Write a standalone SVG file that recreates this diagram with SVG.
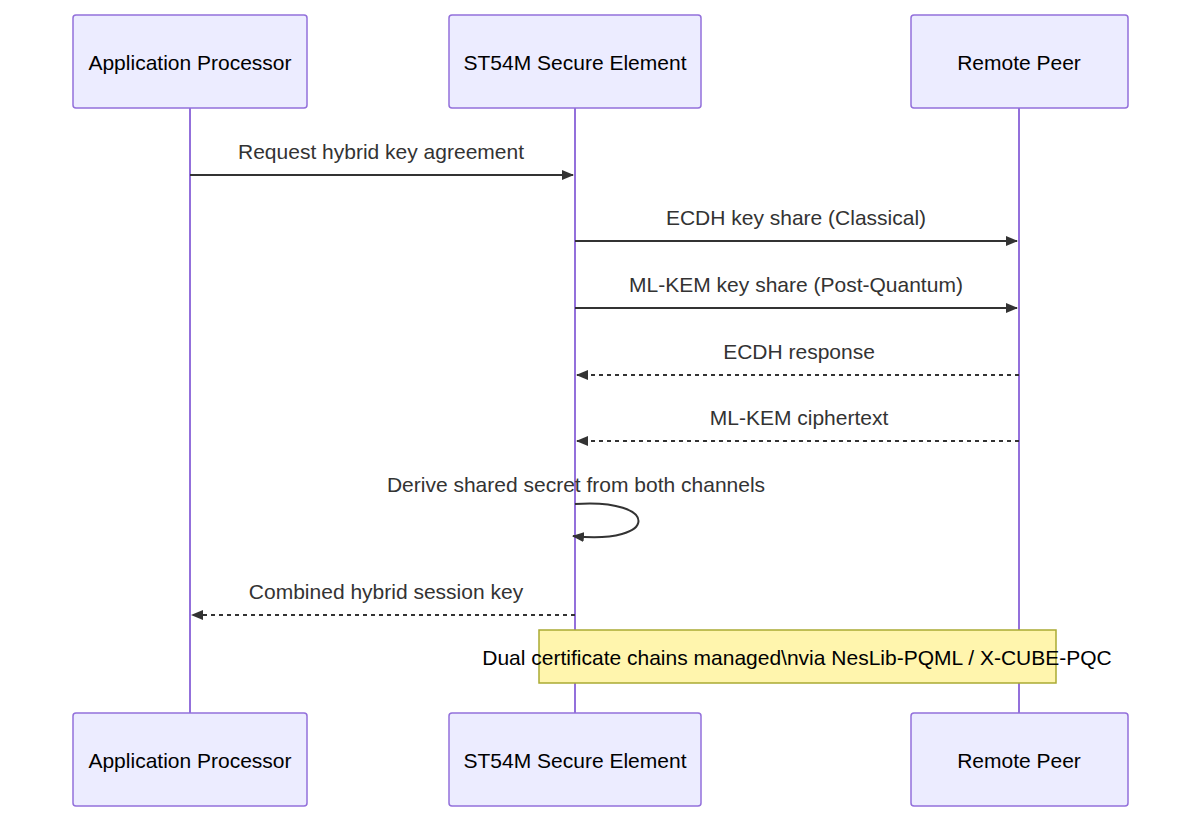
<svg xmlns="http://www.w3.org/2000/svg" width="1200" height="822" viewBox="0 0 1200 822">
<style>
.actor{fill:#ECECFF;stroke:#9370DB;stroke-width:1.5}
.life{stroke:#9370DB;stroke-width:2}
.at{font-family:"Liberation Sans",Arial,sans-serif;font-size:21px;fill:#000;text-anchor:middle;dominant-baseline:central}
.mt{font-family:"Liberation Sans",Arial,sans-serif;font-size:21px;fill:#333;text-anchor:middle}
.msg{stroke:#333;stroke-width:2;fill:none}
.dash{stroke-dasharray:4,4}
</style>
<defs>
<marker id="ah" viewBox="0 0 12 10" refX="11" refY="5" markerWidth="12" markerHeight="10" markerUnits="userSpaceOnUse" orient="auto"><path d="M0,0 L12,5 L0,10 z" fill="#333"/></marker>
</defs>
<g id="lifelines">
<line class="life" x1="190" y1="108" x2="190" y2="713"/>
<line class="life" x1="575" y1="108" x2="575" y2="713"/>
<line class="life" x1="1019" y1="108" x2="1019" y2="713"/>
</g>
<g id="ap-top"><rect class="actor" x="73" y="15" width="234" height="93" rx="3"/><text class="at" x="190" y="62">Application Processor</text></g>
<g id="se-top"><rect class="actor" x="449" y="15" width="252" height="93" rx="3"/><text class="at" x="575" y="62">ST54M Secure Element</text></g>
<g id="rp-top"><rect class="actor" x="911" y="15" width="217" height="93" rx="3"/><text class="at" x="1019" y="62">Remote Peer</text></g>
<g id="ap-bot"><rect class="actor" x="73" y="713" width="234" height="93" rx="3"/><text class="at" x="190" y="760">Application Processor</text></g>
<g id="se-bot"><rect class="actor" x="449" y="713" width="252" height="93" rx="3"/><text class="at" x="575" y="760">ST54M Secure Element</text></g>
<g id="rp-bot"><rect class="actor" x="911" y="713" width="217" height="93" rx="3"/><text class="at" x="1019" y="760">Remote Peer</text></g>
<g id="connectors">
<line class="msg" x1="190" y1="175" x2="573" y2="175" marker-end="url(#ah)"/>
<text class="mt" x="381" y="159">Request hybrid key agreement</text>
<line class="msg" x1="575" y1="241" x2="1017" y2="241" marker-end="url(#ah)"/>
<text class="mt" x="796" y="225">ECDH key share (Classical)</text>
<line class="msg" x1="575" y1="308" x2="1017" y2="308" marker-end="url(#ah)"/>
<text class="mt" x="796" y="292">ML-KEM key share (Post-Quantum)</text>
<line class="msg dash" x1="1019" y1="375" x2="577" y2="375" marker-end="url(#ah)"/>
<text class="mt" x="799" y="359">ECDH response</text>
<line class="msg dash" x1="1019" y1="441" x2="577" y2="441" marker-end="url(#ah)"/>
<text class="mt" x="799" y="425">ML-KEM ciphertext</text>
<path class="msg" d="M575,504 C660,498 660,545 573,536" marker-end="url(#ah)"/>
<text class="mt" x="576" y="492">Derive shared secret from both channels</text>
<line class="msg dash" x1="575" y1="615" x2="192" y2="615" marker-end="url(#ah)"/>
<text class="mt" x="386" y="599">Combined hybrid session key</text>
</g>
<g id="note">
<rect x="539" y="630" width="517" height="53" fill="#fff5ad" stroke="#aaaa33" stroke-width="1.5"/>
<text class="at" x="797" y="657">Dual certificate chains managed\nvia NesLib-PQML / X-CUBE-PQC</text>
</g>
</svg>
